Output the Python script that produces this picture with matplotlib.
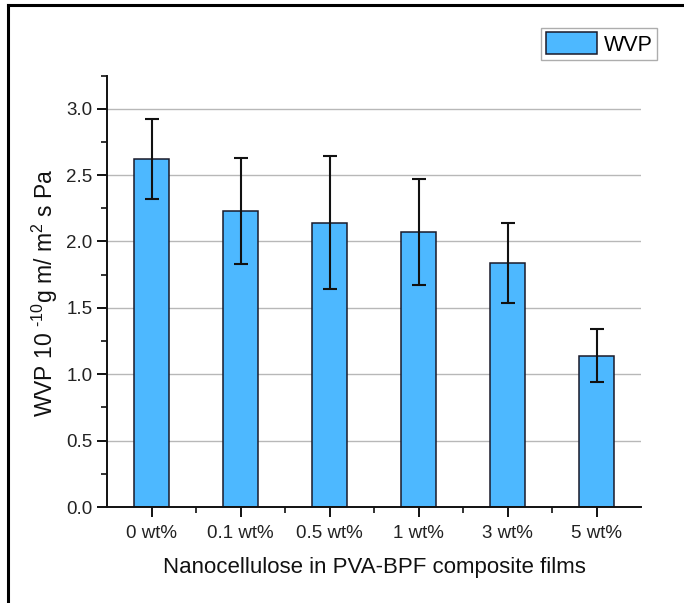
import matplotlib
matplotlib.use("Agg")
import matplotlib.pyplot as plt
from matplotlib.ticker import MultipleLocator
from matplotlib.lines import Line2D

categories = ["0 wt%", "0.1 wt%", "0.5 wt%", "1 wt%", "3 wt%", "5 wt%"]
wvp = [2.62, 2.23, 2.14, 2.07, 1.84, 1.14]
wvp_err = [0.30, 0.40, 0.50, 0.40, 0.30, 0.20]

plt.rcParams['font.family'] = ['Liberation Sans', 'DejaVu Sans']
plt.rcParams['axes.unicode_minus'] = False
plt.rcParams['mathtext.fontset'] = 'custom'
plt.rcParams['mathtext.rm'] = 'Liberation Sans'

fig = plt.figure(figsize=(6.84, 6.03), dpi=100)
ax = fig.add_axes([107/684, 1-507/603, (641-107)/684, (507-75.5)/603])

x = list(range(len(categories)))
ax.bar(x, wvp, width=0.4, color='#4db8ff', edgecolor='#1a1a2a', linewidth=1.1,
       label='WVP', zorder=2)
ax.errorbar(x, wvp, yerr=wvp_err, fmt='none', ecolor='#111111', elinewidth=1.5,
            capsize=5, capthick=1.5, zorder=3)

ax.set_xlim(-0.5, 5.5)
ax.set_ylim(0, 3.25)
ax.yaxis.set_major_locator(MultipleLocator(0.5))
ax.yaxis.set_minor_locator(MultipleLocator(0.25))
ax.set_xticks(x)
ax.set_xticklabels(categories)
ax.set_xticks([i + 0.5 for i in x[:-1]], minor=True)
ax.yaxis.set_major_formatter(matplotlib.ticker.FormatStrFormatter('%.1f'))

ax.grid(axis='y', which='major', color='#b8b8b8', linewidth=1.0, zorder=0)
ax.set_axisbelow(True)

for s in ['top', 'right']:
    ax.spines[s].set_visible(False)
for s in ['left', 'bottom']:
    ax.spines[s].set_linewidth(1.4)
    ax.spines[s].set_color('#111111')

ax.tick_params(axis='both', which='major', direction='out', length=7, width=1.4,
               labelsize=13.5, colors='#111111', labelcolor='#222222')
ax.tick_params(axis='x', which='major', pad=6)
ax.tick_params(axis='both', which='minor', direction='out', length=4, width=1.2,
               colors='#111111')

ax.set_xlabel('Nanocellulose in PVA-BPF composite films', fontsize=16,
              color='#111111', labelpad=11)
ax.set_ylabel('WVP 10 $^{\\text{-10}}$g m/ m$^{\\text{2}}$ s Pa',
              fontsize=16.5, color='#111111')
ax.yaxis.set_label_coords(-0.088, 0.497)

leg = ax.legend(loc='upper right', bbox_to_anchor=(657/684, 1-28/603),
                bbox_transform=fig.transFigure, frameon=True, fancybox=False,
                fontsize=15.5, handlelength=2.4, handleheight=1.2,
                borderpad=0.2, handletextpad=0.3, borderaxespad=0)
leg.get_frame().set_edgecolor('#999999')
leg.get_frame().set_linewidth(1.0)

# outer frame (top and left visible)
fig.add_artist(Line2D([8/684, 8/684], [0, 1-5/603], transform=fig.transFigure,
                      color='black', linewidth=2.2))
fig.add_artist(Line2D([8/684, 1], [1-5/603, 1-5/603], transform=fig.transFigure,
                      color='black', linewidth=2.2))

fig.savefig('out.png', dpi=100)
